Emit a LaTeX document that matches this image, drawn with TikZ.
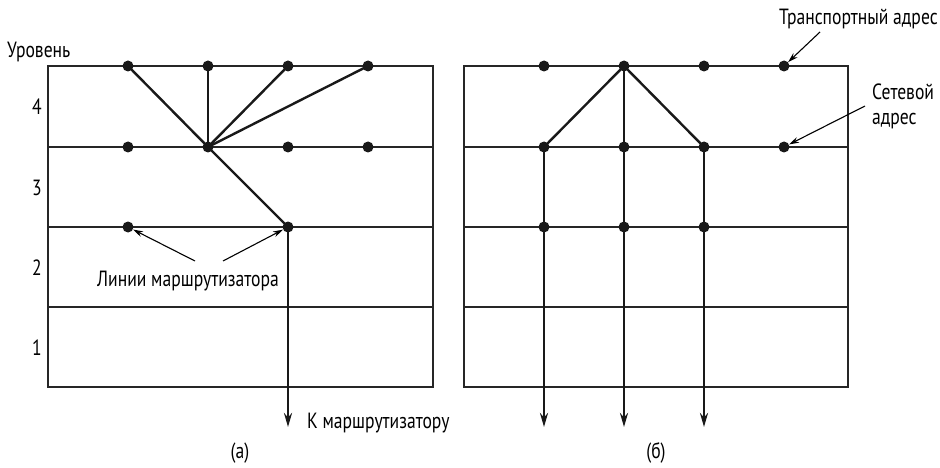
\documentclass[tikz,border=0pt]{standalone}
\usepackage{fontspec}
\setmainfont{PT Sans}[FakeStretch=0.8]
\usetikzlibrary{arrows.meta}
\tikzset{
  grid/.style={line width=1.1pt, draw=black!85},
  link/.style={line width=2.4pt, draw=black!90},
  dot/.style={circle, fill=black!90, inner sep=0pt, minimum size=11pt},
  lbl/.style={font=\fontsize{22}{25}\selectfont, inner sep=0pt},
  ptr/.style={line width=1.1pt, -{Stealth[length=10pt,width=6pt]}},
  down/.style={link, -{Stealth[length=14pt,width=8pt]}}
}
\begin{document}
\begin{tikzpicture}[x=1pt,y=-1pt]
\useasboundingbox (0,0) rectangle (940,468);
% left grid
\draw[grid] (48,66) rectangle (433,387);
\foreach \y in {147,227,307} \draw[grid] (48,\y) -- (433,\y);
% right grid
\draw[grid] (464,66) rectangle (848,387);
\foreach \y in {147,227,307} \draw[grid] (464,\y) -- (848,\y);
% left dots
\node[dot] (a41) at (128,66) {};
\node[dot] (a42) at (208,66) {};
\node[dot] (a43) at (288,66) {};
\node[dot] (a44) at (368,66) {};
\node[dot] (a31) at (128,147) {};
\node[dot] (a32) at (208,147) {};
\node[dot] (a33) at (288,147) {};
\node[dot] (a34) at (368,147) {};
\node[dot] (a21) at (128,227) {};
\node[dot] (a23) at (288,227) {};
\coordinate (aend) at (288,427);
\draw[link] (a41.center) -- (a32.center);
\draw[link] (a42.center) -- (a32.center);
\draw[link] (a43.center) -- (a32.center);
\draw[link] (a44.center) -- (a32.center);
\draw[link] (a32.center) -- (a23.center);
\draw[down] (a23.center) -- (aend);
% right dots
\node[dot] (b41) at (544,66) {};
\node[dot] (b42) at (624,66) {};
\node[dot] (b43) at (704,66) {};
\node[dot] (b44) at (784,66) {};
\node[dot] (b31) at (544,147) {};
\node[dot] (b32) at (624,147) {};
\node[dot] (b33) at (704,147) {};
\node[dot] (b34) at (784,147) {};
\node[dot] (b21) at (544,227) {};
\node[dot] (b22) at (624,227) {};
\node[dot] (b23) at (704,227) {};
\coordinate (bend1) at (544,427);
\coordinate (bend2) at (624,427);
\coordinate (bend3) at (704,427);
\draw[link] (b42.center) -- (b31.center);
\draw[link] (b42.center) -- (b33.center);
\draw[down] (b31.center) -- (bend1);
\draw[down] (b42.center) -- (bend2);
\draw[down] (b33.center) -- (bend3);
% labels
\node[lbl, anchor=base west] (lev) at (7,58) {Уровень};
\node[lbl, anchor=base] (l4) at (37,115) {4};
\node[lbl, anchor=base] (l3) at (37,195) {3};
\node[lbl, anchor=base] (l2) at (37,275) {2};
\node[lbl, anchor=base] (l1) at (37,355) {1};
\node[lbl, anchor=base] (lines) at (188,286) {Линии маршрутизатора};
\coordinate (p1s) at (195,261);
\coordinate (p2s) at (223,261);
\draw[ptr] (p1s) -- (a21);
\draw[ptr] (p2s) -- (a23);
\node[lbl, anchor=base west] (toR) at (307,428) {К маршрутизатору};
\node[lbl, anchor=base] (capa) at (240,458) {(а)};
\node[lbl, anchor=base] (capb) at (656,458) {(б)};
\node[lbl, anchor=base west] (tr) at (779,25) {Транспортный адрес};
\coordinate (trs) at (820,32);
\draw[ptr] (trs) -- (b44);
\node[lbl, anchor=west, align=left] (net) at (872,106) {Сетевой\\адрес};
\coordinate (nets) at (865,106);
\draw[ptr] (nets) -- (b34);
\end{tikzpicture}
\end{document}
